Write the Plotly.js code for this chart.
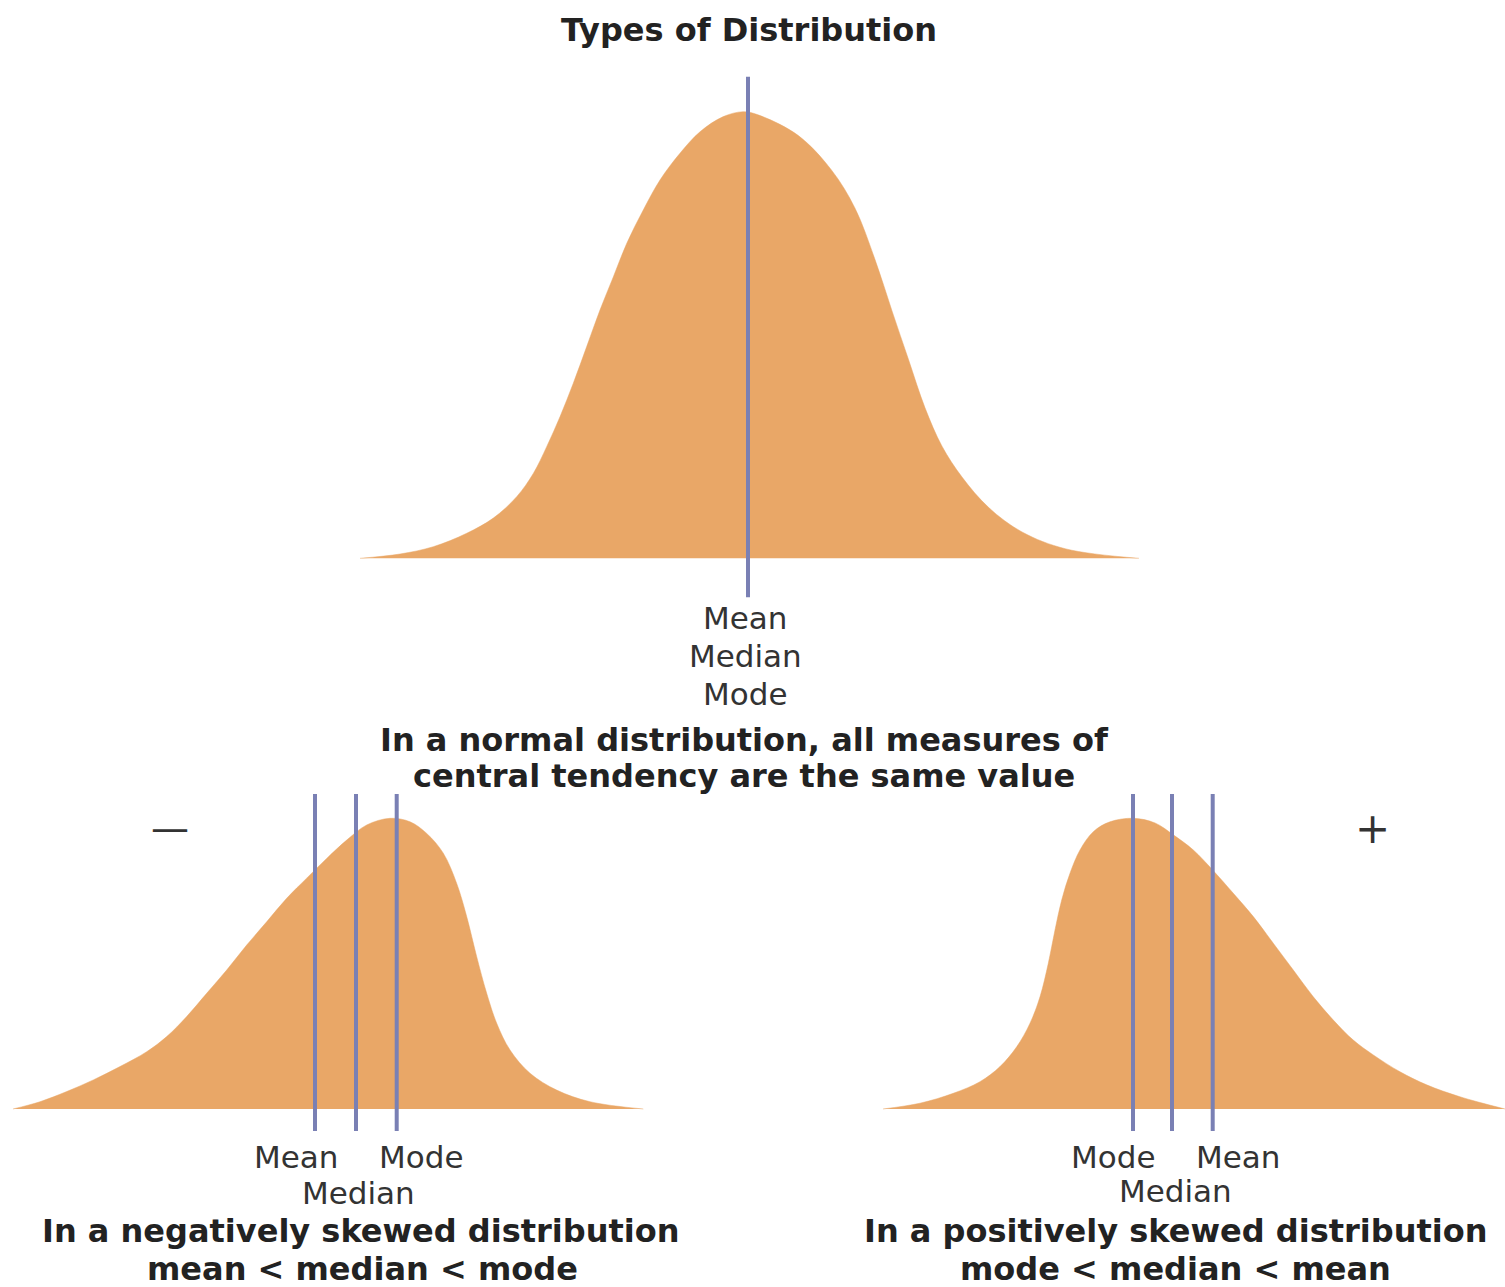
<!DOCTYPE html>
<html>
<head>
<meta charset="utf-8">
<script src="https://cdn.plot.ly/plotly-3.0.1.min.js"></script>
<style>html,body{margin:0;padding:0;background:#fff;}#chart{width:1505px;height:1287px;}</style>
</head>
<body>
<div id="chart"></div>
<script>
// ---- Data (x in arbitrary units, height relative to peak) ----
const normalX = [-3.88, -3.48, -3.147, -2.813, -2.547, -2.313, -2.147, -2.013, -1.88, -1.747, -1.613, -1.48, -1.347,
                 -1.213, -1.047, -0.88, -0.68, -0.48, -0.247, -0.047,
                 0.10, 0.50, 0.836, 1.07, 1.27, 1.44, 1.605, 1.77, 1.94, 2.14, 2.41, 2.74, 3.18, 3.91];
const normalY = [0.0, 0.0096, 0.026, 0.056, 0.090, 0.138, 0.190, 0.250, 0.317, 0.392, 0.474, 0.556, 0.630,
                 0.705, 0.780, 0.847, 0.907, 0.955, 0.989, 1.0,
                 0.993, 0.947, 0.869, 0.784, 0.669, 0.554, 0.445, 0.337, 0.251, 0.182, 0.113, 0.059, 0.021, 0.0];
const normalLines = [0.0];
const normalLineLabels = ["Mean", "Median", "Mode"];

const negX = [0.0, 0.27, 0.537, 0.803, 1.07, 1.337, 1.537, 1.737, 1.937, 2.137, 2.337, 2.537, 2.737, 2.937, 3.137,
              3.337, 3.537, 3.77, 3.97, 4.137, 4.303, 4.437, 4.537, 4.637, 4.737, 4.837, 4.97, 5.17, 5.437, 5.77, 6.303];
const negY = [0.0, 0.025, 0.060, 0.100, 0.146, 0.197, 0.249, 0.318, 0.398, 0.478, 0.564, 0.644, 0.725, 0.794, 0.862,
              0.925, 0.977, 1.0, 0.988, 0.948, 0.880, 0.776, 0.662, 0.524, 0.398, 0.295, 0.203, 0.123, 0.065, 0.025, 0.0];
const negLines = [3.02, 3.43, 3.837];   // mean, median, mode
const negLabels = ["Mean", "Median", "Mode"];

const posX = [0.0, 0.37, 0.703, 0.97, 1.17, 1.337, 1.47, 1.57, 1.653, 1.72, 1.787, 1.87, 1.97, 2.103, 2.27, 2.503,
              2.72, 2.903, 3.103, 3.297, 3.503, 3.703, 3.903, 4.103, 4.303, 4.503, 4.703, 4.903, 5.17, 5.437, 5.77, 6.22];
const posY = [0.0, 0.020, 0.054, 0.094, 0.146, 0.214, 0.295, 0.386, 0.501, 0.616, 0.719, 0.811, 0.891, 0.954, 0.988, 1.0,
              0.984, 0.943, 0.891, 0.822, 0.742, 0.662, 0.570, 0.478, 0.386, 0.306, 0.237, 0.186, 0.128, 0.083, 0.042, 0.0];
const posLines = [2.50, 2.89, 3.297];   // mode, median, mean
const posLabels = ["Mode", "Median", "Mean"];

const titleText = "Types of Distribution";
const normalCaption = ["In a normal distribution, all measures of", "central tendency are the same value"];
const negCaption = ["In a negatively skewed distribution", "mean &lt; median &lt; mode"];
const posCaption = ["In a positively skewed distribution", "mode &lt; median &lt; mean"];

// ---- Styling / layout ----
const W = 1505, H = 1287;
const FILL = "#E9A767";
const LINE = "#7A80B4";
const TXT = "#333333";
const BOLD = "#222222";
const FONT = "DejaVu Sans, Verdana, sans-serif";
const px = v => v / W;
const py = v => 1 - v / H;

function curve(x, y, xa, ya) {
  return {type: "scatter", mode: "lines", x: x, y: y, xaxis: xa, yaxis: ya,
          fill: "tozeroy", fillcolor: FILL, line: {color: FILL, width: 0.5, shape: "spline", smoothing: 1},
          hoverinfo: "skip"};
}
function vline(xv, y0, y1, xa, ya) {
  return {type: "scatter", mode: "lines", x: [xv, xv], y: [y0, y1], xaxis: xa, yaxis: ya,
          line: {color: LINE, width: 4}, hoverinfo: "skip"};
}

const traces = [curve(normalX, normalY, "x", "y")];
normalLines.forEach(v => traces.push(vline(v, -0.087, 1.078, "x", "y")));
traces.push(curve(negX, negY, "x2", "y2"));
negLines.forEach(v => traces.push(vline(v, -0.076, 1.084, "x2", "y2")));
traces.push(curve(posX, posY, "x3", "y3"));
posLines.forEach(v => traces.push(vline(v, -0.076, 1.084, "x3", "y3")));

const hidden = {visible: false, showgrid: false, zeroline: false, fixedrange: true};

function ann(text, x, y, size, bold, color) {
  return {text: bold ? "<b>" + text + "</b>" : text, x: px(x), y: py(y), xref: "paper", yref: "paper",
          xanchor: "center", yanchor: "middle", showarrow: false,
          font: {family: FONT, size: size, color: color}};
}

const annotations = [
  ann(titleText, 749, 30, 32, true, BOLD),
  ann(normalLineLabels[0], 745, 618, 31, false, TXT),
  ann(normalLineLabels[1], 745, 656, 31, false, TXT),
  ann(normalLineLabels[2], 745, 694, 31, false, TXT),
  ann(normalCaption[0], 744, 740, 32, true, BOLD),
  ann(normalCaption[1], 744, 776, 32, true, BOLD),
  ann("—", 170, 828, 38, false, TXT),
  ann("+", 1372, 828, 42, false, TXT),
  ann(negLabels[0], 296, 1157, 31, false, TXT),
  ann(negLabels[2], 421, 1157, 31, false, TXT),
  ann(negLabels[1], 358, 1193, 31, false, TXT),
  ann(negCaption[0], 361, 1231, 32, true, BOLD),
  ann(negCaption[1], 362, 1269, 32, true, BOLD),
  ann(posLabels[0], 1113, 1157, 31, false, TXT),
  ann(posLabels[2], 1238, 1157, 31, false, TXT),
  ann(posLabels[1], 1175, 1191, 31, false, TXT),
  ann(posCaption[0], 1175, 1231, 32, true, BOLD),
  ann(posCaption[1], 1175, 1269, 32, true, BOLD)
];

const layout = {
  width: W, height: H,
  margin: {l: 0, r: 0, t: 0, b: 0, pad: 0},
  paper_bgcolor: "#ffffff", plot_bgcolor: "rgba(0,0,0,0)",
  showlegend: false,
  xaxis:  Object.assign({}, hidden, {range: [-4, 4],     domain: [px(348), px(1148)]}),
  yaxis:  Object.assign({}, hidden, {range: [-0.1, 1.1], domain: [py(602.96), py(67.04)]}),
  xaxis2: Object.assign({}, hidden, {range: [-0.1, 6.5], domain: [px(3), px(663)], anchor: "y2"}),
  yaxis2: Object.assign({}, hidden, {range: [-0.1, 1.1], domain: [py(1138.07), py(789.23)], anchor: "x2"}),
  xaxis3: Object.assign({}, hidden, {range: [-0.1, 6.22], domain: [px(873), px(1505)], anchor: "y3"}),
  yaxis3: Object.assign({}, hidden, {range: [-0.1, 1.1], domain: [py(1138.07), py(789.23)], anchor: "x3"}),
  annotations: annotations
};

Plotly.newPlot("chart", traces, layout, {displayModeBar: false, staticPlot: true});
</script>
</body>
</html>
